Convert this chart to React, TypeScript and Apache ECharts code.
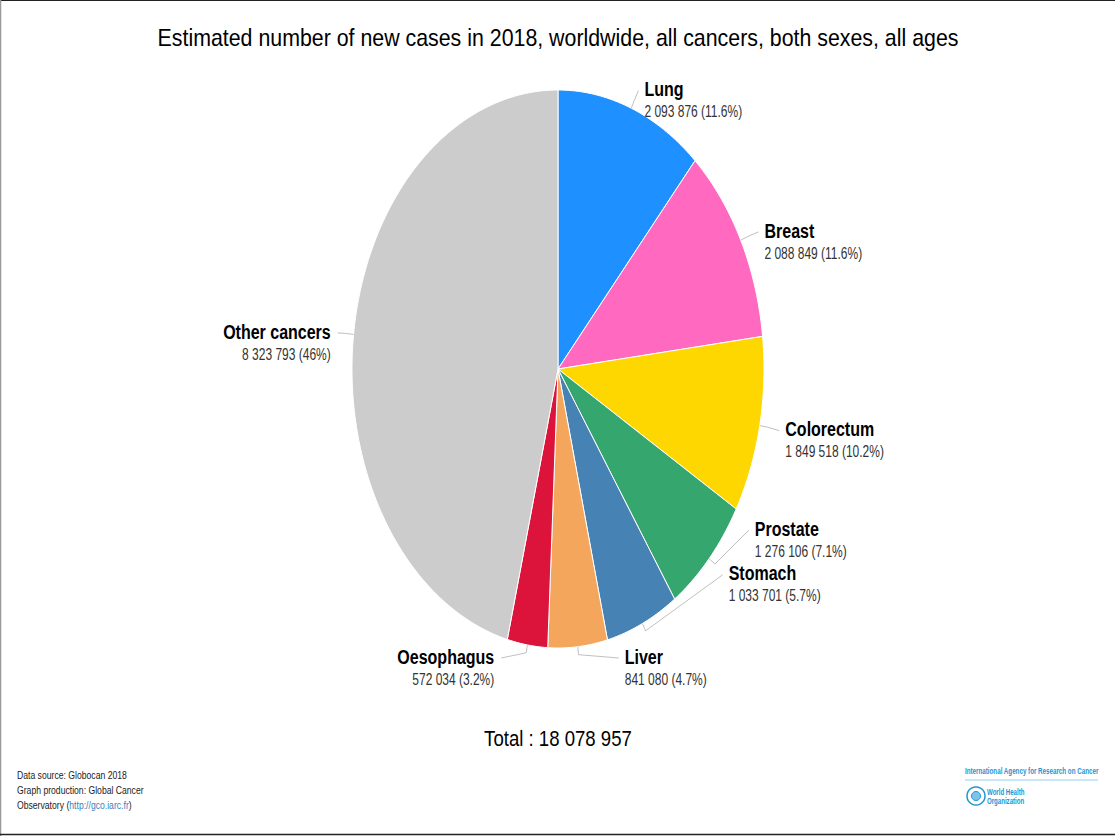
import React, { useEffect, useRef } from "react";
import * as echarts from "echarts";

const categories = ["Lung", "Breast", "Colorectum", "Prostate", "Stomach", "Liver", "Oesophagus", "Other cancers"];
const values = [2093876, 2088849, 1849518, 1276106, 1033701, 841080, 572034, 8323793];
const valueLabels = ["2 093 876 (11.6%)", "2 088 849 (11.6%)", "1 849 518 (10.2%)", "1 276 106 (7.1%)", "1 033 701 (5.7%)", "841 080 (4.7%)", "572 034 (3.2%)", "8 323 793 (46%)"];
const totalLabel = "Total : 18 078 957";
const titleText = "Estimated number of new cases in 2018, worldwide, all cancers, both sexes, all ages";

const colors = ["#1e90ff", "#ff69c0", "#ffd700", "#35a76e", "#4682b4", "#f4a65c", "#dc143c", "#cccccc"];

// layout
const CX = 558;
const CY = 369;
const RX = 206;
const RY = 279;
const LD = 20; // label distance
const LABEL_BOTTOM = 657;
const labelNudge: Record<string, number> = { Prostate: -43, Stomach: -68 };
const FONT = "'Liberation Sans', Arial, sans-serif";
const NAME_SX = 0.8;
const VALUE_SX = 0.75;

export default function App() {
  const ref = useRef<HTMLDivElement>(null);
  useEffect(() => {
    if (!ref.current) return;
    const chart = echarts.init(ref.current, null, { renderer: "svg" });
    const total = values.reduce((a, b) => a + b, 0);
    const pt = (a: number, rx: number, ry: number) => [CX + rx * Math.sin(a), CY - ry * Math.cos(a)];

    const renderItem = (params: any, api: any) => {
      const i = params.dataIndex;
      let before = 0;
      for (let j = 0; j < i; j++) before += values[j];
      const v = api.value(0);
      const a0 = (before / total) * Math.PI * 2;
      const a1 = ((before + v) / total) * Math.PI * 2;
      const steps = Math.max(2, Math.ceil((a1 - a0) / (Math.PI / 180)));
      const pts: number[][] = [[CX, CY]];
      for (let s = 0; s <= steps; s++) {
        pts.push(pt(a0 + ((a1 - a0) * s) / steps, RX, RY));
      }
      const mid = (a0 + a1) / 2;
      const right = Math.sin(mid) >= 0;
      let ly = CY - (RY + LD) * Math.cos(mid) + (labelNudge[categories[i]] || 0);
      ly = Math.min(ly, LABEL_BOTTOM);
      const t = (ly - CY) / (RY + LD);
      const lx = CX + (right ? 1 : -1) * (RX + LD) * Math.sqrt(Math.max(0, 1 - t * t));
      const p0 = pt(mid, RX, RY);
      const p1 = pt(mid, RX + 8, RY + 8);
      const p2 = right ? [lx, ly + 1] : [lx + 4, ly + 1];
      const tx = right ? lx + 6 : lx - 3;
      return {
        type: "group",
        children: [
          {
            type: "polygon",
            shape: { points: pts },
            style: { fill: colors[i], stroke: "#ffffff", lineWidth: 1, lineJoin: "round" },
          },
          {
            type: "polyline",
            shape: { points: [p0, p1, p2] },
            style: { stroke: "#c0c0c0", lineWidth: 1, fill: "none" },
          },
          {
            type: "text",
            x: tx,
            y: ly,
            scaleX: NAME_SX,
            style: {
              text: categories[i],
              fill: "#000000",
              fontFamily: FONT,
              fontWeight: "bold",
              fontSize: 20,
              align: right ? "left" : "right",
              verticalAlign: "middle",
            },
          },
          {
            type: "text",
            x: tx,
            y: ly + 22,
            scaleX: VALUE_SX,
            style: {
              text: valueLabels[i],
              fill: "#333333",
              fontFamily: FONT,
              fontSize: 16,
              align: right ? "left" : "right",
              verticalAlign: "middle",
            },
          },
        ],
      };
    };

    chart.setOption({
      animation: false,
      backgroundColor: "#ffffff",
      series: [
        {
          type: "custom",
          coordinateSystem: "none",
          renderItem,
          data: values.map((v) => [v]),
          silent: true,
        },
      ],
      graphic: [
        { type: "line", shape: { x1: 0, y1: 0.5, x2: 1115, y2: 0.5 }, style: { stroke: "#222", lineWidth: 1 } },
        { type: "line", shape: { x1: 0.5, y1: 0, x2: 0.5, y2: 836 }, style: { stroke: "#999", lineWidth: 1.5 } },
        { type: "line", shape: { x1: 0, y1: 834.5, x2: 1115, y2: 834.5 }, style: { stroke: "#222", lineWidth: 1.5 } },
        {
          type: "text",
          x: 558,
          y: 38,
          scaleX: 0.89,
          style: { text: titleText, fontFamily: FONT, fontSize: 24, fill: "#000", align: "center", verticalAlign: "middle" },
        },
        {
          type: "text",
          x: 558,
          y: 738,
          scaleX: 0.845,
          style: { text: totalLabel, fontFamily: FONT, fontSize: 22, fill: "#000", align: "center", verticalAlign: "middle" },
        },
        {
          type: "text",
          x: 17,
          y: 775,
          scaleX: 0.8,
          style: { text: "Data source: Globocan 2018", fontFamily: FONT, fontSize: 10.8, fill: "#222", verticalAlign: "middle" },
        },
        {
          type: "text",
          x: 17,
          y: 790,
          scaleX: 0.8,
          style: { text: "Graph production: Global Cancer", fontFamily: FONT, fontSize: 10.8, fill: "#222", verticalAlign: "middle" },
        },
        {
          type: "text",
          x: 17,
          y: 805,
          scaleX: 0.8,
          style: {
            text: "{a|Observatory (}{b|http://gco.iarc.fr}{a|)}",
            fontFamily: FONT,
            fontSize: 10.8,
            verticalAlign: "middle",
            rich: {
              a: { fontFamily: FONT, fontSize: 10.8, fill: "#222", color: "#222" },
              b: { fontFamily: FONT, fontSize: 10.8, fill: "#3a7fc1", color: "#3a7fc1" },
            },
          },
        },
        {
          type: "text",
          x: 965,
          y: 771,
          scaleX: 0.725,
          style: { text: "International Agency for Research on Cancer", fontFamily: FONT, fontSize: 8.6, fontWeight: "bold", fill: "#2196d3", verticalAlign: "middle" },
        },
        { type: "line", shape: { x1: 965, y1: 780, x2: 1098, y2: 780 }, style: { stroke: "#8fd0ee", lineWidth: 1 } },
        { type: "circle", shape: { cx: 976, cy: 796, r: 9 }, style: { fill: "#ffffff", stroke: "#2196d3", lineWidth: 1.5 } },
        { type: "circle", shape: { cx: 976, cy: 796, r: 4.5 }, style: { fill: "#7fc3ea", stroke: "#2196d3", lineWidth: 1 } },
        {
          type: "text",
          x: 987,
          y: 792,
          scaleX: 0.71,
          style: { text: "World Health", fontFamily: FONT, fontSize: 8.6, fontWeight: "bold", fill: "#2196d3", verticalAlign: "middle" },
        },
        {
          type: "text",
          x: 987,
          y: 801,
          scaleX: 0.71,
          style: { text: "Organization", fontFamily: FONT, fontSize: 8.6, fontWeight: "bold", fill: "#2196d3", verticalAlign: "middle" },
        },
      ],
    });
    return () => chart.dispose();
  }, []);
  return <div ref={ref} style={{ position: "absolute", left: 0, top: 0, width: 1115, height: 836 }} />;
}
